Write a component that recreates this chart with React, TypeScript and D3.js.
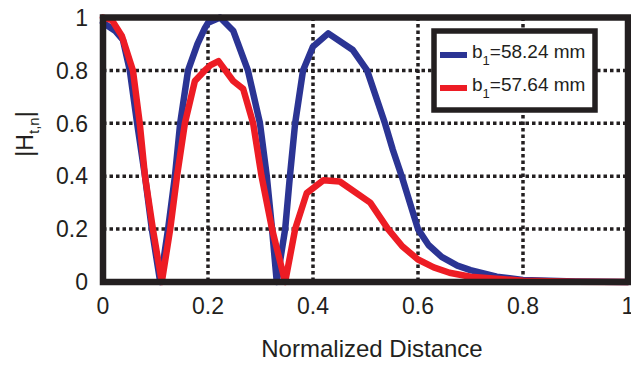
import React from "react";
import * as d3 from "d3";

const blueX = [0, 0.023, 0.038, 0.051, 0.065, 0.08, 0.093, 0.109, 0.124, 0.137, 0.147, 0.162, 0.18, 0.194, 0.2, 0.223, 0.248, 0.276, 0.299, 0.312, 0.322, 0.331, 0.347, 0.356, 0.366, 0.381, 0.4, 0.429, 0.476, 0.503, 0.537, 0.552, 0.569, 0.6, 0.62, 0.645, 0.675, 0.7, 0.75, 0.8, 0.9, 1.0];
const blueY = [0.98, 0.95, 0.915, 0.8, 0.6, 0.4, 0.2, 0, 0.2, 0.4, 0.6, 0.8, 0.9, 0.96, 0.98, 1.0, 0.95, 0.8, 0.6, 0.4, 0.2, 0, 0.2, 0.4, 0.6, 0.8, 0.89, 0.94, 0.877, 0.8, 0.6, 0.5, 0.4, 0.2, 0.14, 0.095, 0.062, 0.045, 0.02, 0.008, 0.002, 0];

const redX = [0, 0.017, 0.036, 0.057, 0.07, 0.08, 0.095, 0.112, 0.128, 0.141, 0.156, 0.175, 0.194, 0.205, 0.22, 0.248, 0.267, 0.286, 0.302, 0.322, 0.347, 0.366, 0.388, 0.42, 0.451, 0.509, 0.543, 0.57, 0.6, 0.63, 0.66, 0.7, 0.8, 0.9, 1.0];
const redY = [1.0, 0.99, 0.93, 0.8, 0.6, 0.4, 0.2, 0, 0.2, 0.4, 0.6, 0.76, 0.8, 0.82, 0.835, 0.76, 0.73, 0.6, 0.4, 0.2, 0, 0.2, 0.336, 0.385, 0.38, 0.3, 0.2, 0.135, 0.085, 0.055, 0.035, 0.02, 0.005, 0.001, 0];

const xTicks = [0, 0.2, 0.4, 0.6, 0.8, 1];
const yTicks = [0, 0.2, 0.4, 0.6, 0.8, 1];
const xTickLabels = ["0", "0.2", "0.4", "0.6", "0.8", "1"];
const yTickLabels = ["0", "0.2", "0.4", "0.6", "0.8", "1"];
const seriesNames = ["58.24 mm", "57.64 mm"];
const seriesColors = ["#2b3494", "#ed1c24"];

const FONT = "'Liberation Sans', Arial, Helvetica, sans-serif";
const INK = "#231f20";

export default function App() {
  const x = d3.scaleLinear().domain([0, 1]).range([103, 628]);
  const y = d3.scaleLinear().domain([0, 1]).range([282, 17.5]);
  const line = d3
    .line<[number, number]>()
    .x((d) => x(d[0]))
    .y((d) => y(d[1]));
  const blue = blueX.map((v, i) => [v, blueY[i]] as [number, number]);
  const red = redX.map((v, i) => [v, redY[i]] as [number, number]);

  return (
    <svg
      width={631}
      height={365}
      style={{ position: "absolute", left: 0, top: 0, background: "#fff" }}
      fontFamily={FONT}
    >
      <rect x={0} y={0} width={631} height={365} fill="#fff" />
      {/* grid */}
      {xTicks.slice(1, -1).map((t) => (
        <line key={"gx" + t} x1={x(t)} x2={x(t)} y1={y(1)} y2={y(0)} stroke={INK} strokeWidth={3.5} strokeDasharray="3.5,3" />
      ))}
      {yTicks.slice(1, -1).map((t) => (
        <line key={"gy" + t} x1={x(0)} x2={x(1)} y1={y(t)} y2={y(t)} stroke={INK} strokeWidth={3.5} strokeDasharray="3.5,3" />
      ))}
      {/* series */}
      <path d={line(blue) || ""} fill="none" stroke={seriesColors[0]} strokeWidth={6.5} strokeLinejoin="round" strokeLinecap="round" />
      <path d={line(red) || ""} fill="none" stroke={seriesColors[1]} strokeWidth={6.5} strokeLinejoin="round" strokeLinecap="round" />
      {/* frame */}
      <rect x={x(0)} y={y(1)} width={x(1) - x(0)} height={y(0) - y(1)} fill="none" stroke={INK} strokeWidth={6.5} />
      {/* ticks labels */}
      {xTicks.map((t, i) => (
        <text key={"xl" + t} x={x(t)} y={314} textAnchor="middle" fontSize={23} fill={INK}>
          {xTickLabels[i]}
        </text>
      ))}
      {yTicks.map((t, i) => (
        <text key={"yl" + t} x={88} y={y(t)} dy="0.36em" textAnchor="end" fontSize={23} fill={INK}>
          {yTickLabels[i]}
        </text>
      ))}
      {/* axis labels */}
      <text x={372} y={357} textAnchor="middle" fontSize={24} fill={INK}>
        Normalized Distance
      </text>
      <text transform="translate(33,134) rotate(-90)" textAnchor="middle" fontSize={23} fill={INK}>
        |H<tspan fontSize={15} dy={6}>t,n</tspan>
        <tspan dy={-6}>|</tspan>
      </text>
      {/* legend */}
      <rect x={434} y={31} width={161} height={79} fill="#fff" stroke={INK} strokeWidth={5.5} />
      {seriesNames.map((n, i) => {
        const ly = 55 + i * 33;
        return (
          <g key={n}>
            <line x1={440} x2={467} y1={ly} y2={ly} stroke={seriesColors[i]} strokeWidth={6} />
            <text x={472} y={ly + 3} fontSize={19} fill={INK}>
              b<tspan fontSize={13} dy={7}>1</tspan>
              <tspan dy={-7}>={n}</tspan>
            </text>
          </g>
        );
      })}
    </svg>
  );
}
